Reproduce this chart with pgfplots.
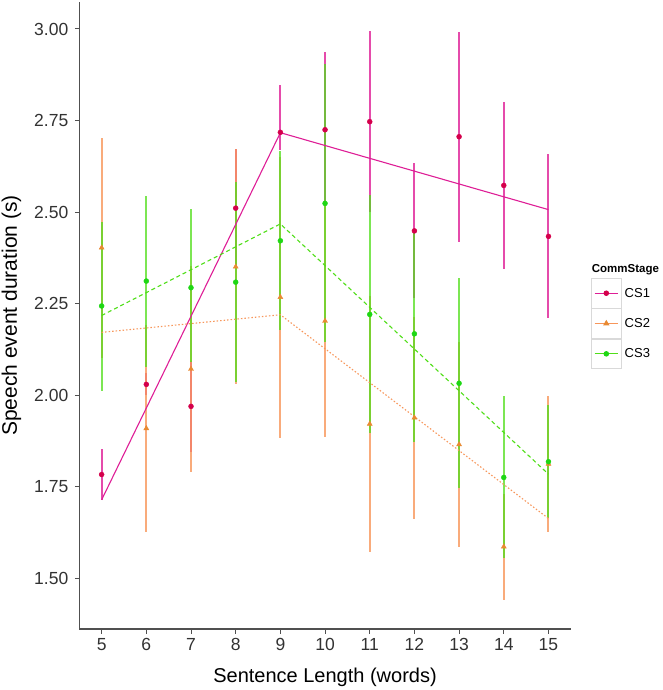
\documentclass[border=0pt]{standalone}
\usepackage{pgfplots}
\pgfplotsset{compat=1.18}
\usepackage{pgfplotstable}
\usepackage{fontspec}
\setmainfont{Liberation Sans}

\definecolor{cslA}{RGB}{222,30,150}
\definecolor{cspA}{RGB}{212,0,75}
\definecolor{cslB}{RGB}{247,150,90}
\definecolor{cspB}{RGB}{232,138,50}
\definecolor{cslC}{RGB}{80,222,25}
\definecolor{cspC}{RGB}{30,215,20}
\definecolor{axgray}{RGB}{80,80,80}
\definecolor{txgray}{RGB}{50,50,50}

\pgfplotstableread{
x y lo hi
5 1.784 1.715 1.854
6 2.030 2.000 2.060
7 1.970 1.845 2.095
8 2.511 2.350 2.672
9 2.718 2.670 2.847
10 2.725 2.530 2.936
11 2.747 2.501 2.995
12 2.449 2.265 2.633
13 2.706 2.420 2.991
14 2.573 2.346 2.802
15 2.434 2.210 2.658
}\csA

\pgfplotstableread{
x y lo hi
5 2.403 2.103 2.703
6 1.910 1.628 2.192
7 2.072 1.791 2.353
8 2.351 2.030 2.672
9 2.268 1.885 2.651
10 2.203 1.887 2.519
11 1.922 1.572 2.272
12 1.939 1.663 2.215
13 1.866 1.585 2.147
14 1.587 1.442 1.732
15 1.813 1.626 1.997
}\csB

\pgfplotstableread{
x y lo hi
5 2.244 2.013 2.474
6 2.312 2.078 2.544
7 2.294 2.090 2.509
8 2.309 2.036 2.583
9 2.422 2.178 2.667
10 2.524 2.145 2.904
11 2.221 1.896 2.547
12 2.168 1.874 2.450
13 2.033 1.746 2.320
14 1.776 1.555 1.997
15 1.819 1.664 1.974
}\csC

\begin{document}
\begin{tikzpicture}
\path[use as bounding box] (-79.3pt,-61pt) rectangle (583.7pt,629pt);
\begin{axis}[
  at={(0pt,0pt)}, anchor=south west,
  scale only axis,
  width=491.5pt, height=627pt,
  xmin=4.5, xmax=15.5,
  ymin=1.3624, ymax=3.0737,
  axis x line*=bottom, axis y line*=left,
  axis line style={axgray, line width=1.1pt, -},
  tick align=outside,
  major tick length=4.5pt,
  tick style={axgray, line width=1pt},
  xtick={5,6,...,15},
  ytick={1.5,1.75,2,2.25,2.5,2.75,3},
  /pgf/number format/assume math mode=true,
  ticklabel style={font=\fontsize{17.5}{19}\selectfont, text=txgray},
  yticklabel style={xshift=-3pt, /pgf/number format/.cd, fixed, fixed zerofill, precision=2},
  xticklabel style={yshift=-1pt},
  xlabel={Sentence Length (words)},
  ylabel={Speech event duration (s)},
  xlabel style={font=\fontsize{20}{22}\selectfont, at={(axis description cs:0.5,-0.0861)}, anchor=base},
  ylabel style={font=\fontsize{21}{23}\selectfont, at={(axis description cs:-0.127,0.5)}, anchor=base},
  legend style={at={(1.0405,0.4872)}, anchor=west, draw=none, fill=none,
    inner sep=0pt, row sep=0pt, font=\fontsize{13}{15}\selectfont,
    nodes={inner sep=3pt}},
  legend cell align=left,
  legend image code/.code={
    \draw[draw=black!15, fill=white, line width=0.8pt] (0pt,-14.75pt) rectangle (30pt,14.75pt);
    \draw[mark repeat=2, mark phase=2, #1] plot coordinates {(3.3pt,0pt) (15pt,0pt) (26.7pt,0pt)};
  },
]
% error bars and points
\addplot[forget plot, only marks, mark=*, mark size=2.5pt, color=cspA,
  error bars/.cd, y dir=both, y explicit, error mark=none,
  error bar style={cslA, line width=2pt, opacity=0.8}]
  table[x=x, y=y, y error plus expr=\thisrow{hi}-\thisrow{y}, y error minus expr=\thisrow{y}-\thisrow{lo}] {\csA};
\addplot[forget plot, only marks, mark=triangle*, mark size=2.9pt, color=cspB,
  error bars/.cd, y dir=both, y explicit, error mark=none,
  error bar style={cslB, line width=2pt, opacity=0.8}]
  table[x=x, y=y, y error plus expr=\thisrow{hi}-\thisrow{y}, y error minus expr=\thisrow{y}-\thisrow{lo}] {\csB};
\addplot[forget plot, only marks, mark=*, mark size=2.5pt, color=cspC,
  error bars/.cd, y dir=both, y explicit, error mark=none,
  error bar style={cslC, line width=2pt, opacity=0.75}]
  table[x=x, y=y, y error plus expr=\thisrow{hi}-\thisrow{y}, y error minus expr=\thisrow{y}-\thisrow{lo}] {\csC};
% fitted lines
\addplot[forget plot, cslA, line width=1.1pt] coordinates {(5,1.715) (9,2.717) (15,2.507)};
\addplot[forget plot, cslB, line width=1.1pt, dash pattern=on 1.5pt off 2pt] coordinates {(5,2.172) (9,2.220) (15,1.664)};
\addplot[forget plot, cslC, line width=1.1pt, dash pattern=on 4pt off 3pt] coordinates {(5,2.218) (9,2.468) (15,1.785)};
% legend
\addlegendimage{cslA, line width=1.1pt, mark=*, mark size=2.2pt, mark options={fill=cspA, draw=cspA}}
\addlegendentry{CS1}
\addlegendimage{cslB, line width=1.1pt, mark=triangle*, mark size=2.6pt, mark options={fill=cspB, draw=cspB}}
\addlegendentry{CS2}
\addlegendimage{cslC, line width=1.1pt, mark=*, mark size=2.2pt, mark options={fill=cspC, draw=cspC}}
\addlegendentry{CS3}
\end{axis}
\node[anchor=west, inner sep=0pt, font=\fontsize{11.5}{13}\selectfont\bfseries] at (512.4pt,359.7pt) {CommStage};
\end{tikzpicture}
\end{document}
